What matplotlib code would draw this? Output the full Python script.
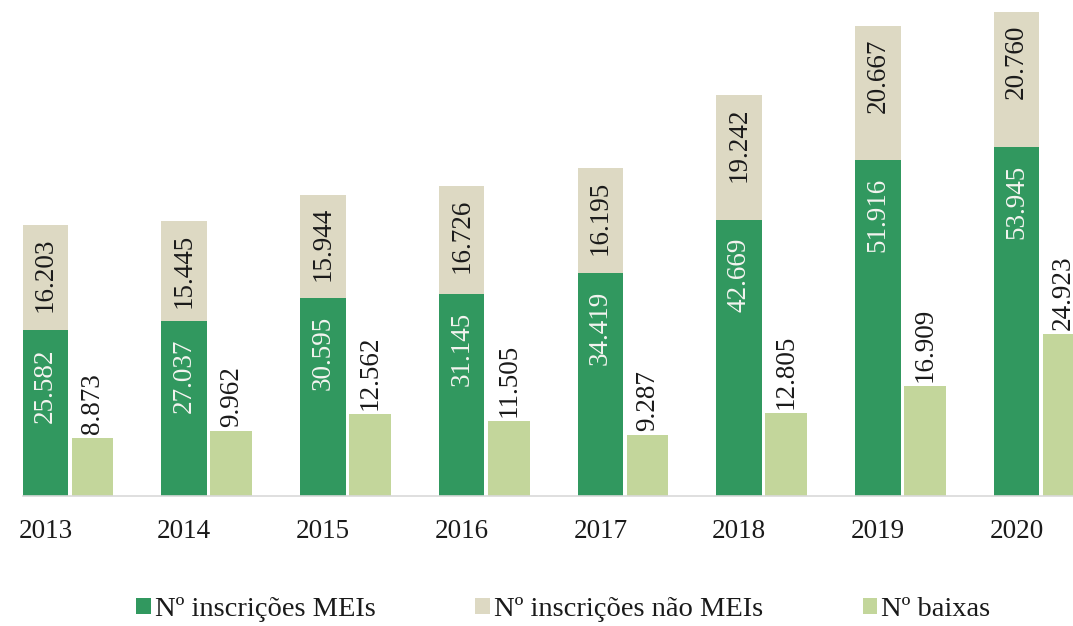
import matplotlib
matplotlib.use("Agg")
import matplotlib.pyplot as plt
import numpy as np

years = ["2013", "2014", "2015", "2016", "2017", "2018", "2019", "2020"]
meis = [25582, 27037, 30595, 31145, 34419, 42669, 51916, 53945]
nao_meis = [16203, 15445, 15944, 16726, 16195, 19242, 20667, 20760]
baixas = [8873, 9962, 12562, 11505, 9287, 12805, 16909, 24923]

labels_series = ["Nº inscrições MEIs", "Nº inscrições não MEIs", "Nº baixas"]

def fmt(v):
    return f"{v:,}".replace(",", ".")

c_mei = "#31985f"
c_nao = "#ddd9c3"
c_bx = "#c3d69b"

plt.rcParams['font.family'] = ['Liberation Serif', 'DejaVu Serif']

fig = plt.figure(figsize=(10.73, 6.26), dpi=100)
ax = fig.add_axes([22.7 / 1073, 130.5 / 626, 1 - 22.7 / 1073, 495.5 / 626])

x = np.arange(len(years))
w1 = 0.328
w2 = 0.302
off = 0.339

b1 = ax.bar(x, meis, width=w1, color=c_mei, label=labels_series[0])
b2 = ax.bar(x, nao_meis, width=w1, bottom=meis, color=c_nao, label=labels_series[1])
b3 = ax.bar(x + off, baixas, width=w2, color=c_bx, label=labels_series[2])

fs = 19.5
for i in range(len(years)):
    ax.annotate(fmt(meis[i]), (x[i], meis[i]), xytext=(0, -13), textcoords="offset points",
                rotation=90, ha="center", va="top", color="#f4f4f0", fontsize=fs)
    ax.annotate(fmt(nao_meis[i]), (x[i], meis[i] + nao_meis[i]), xytext=(0, -9),
                textcoords="offset points", rotation=90, ha="center", va="top",
                color="#1a1a1a", fontsize=fs)
    ax.annotate(fmt(baixas[i]), (x[i] + off, baixas[i]), xytext=(0, 3),
                textcoords="offset points", rotation=90, ha="center", va="bottom",
                color="#1a1a1a", fontsize=fs, annotation_clip=False)

ax.set_xlim(-w1 / 2, 7.406)
ax.set_ylim(0, 76630)
ax.set_xticks(x)
ax.set_xticklabels(years, fontsize=fs, color="#1a1a1a")
ax.tick_params(axis="x", length=0, pad=17)
ax.set_yticks([])
for s in ["top", "left", "right"]:
    ax.spines[s].set_visible(False)
ax.spines["bottom"].set_color("#d9d9d9")
ax.spines["bottom"].set_linewidth(1.2)

leg = fig.legend(handles=[b1, b2, b3], labels=labels_series, loc="center",
                 bbox_to_anchor=(0.525, 0.026), ncol=3, frameon=False, fontsize=20.5,
                 handlelength=0.5, handleheight=0.5, handletextpad=0.15,
                 columnspacing=3.5, labelcolor="#1a1a1a")

fig.savefig("out.png", dpi=100)
